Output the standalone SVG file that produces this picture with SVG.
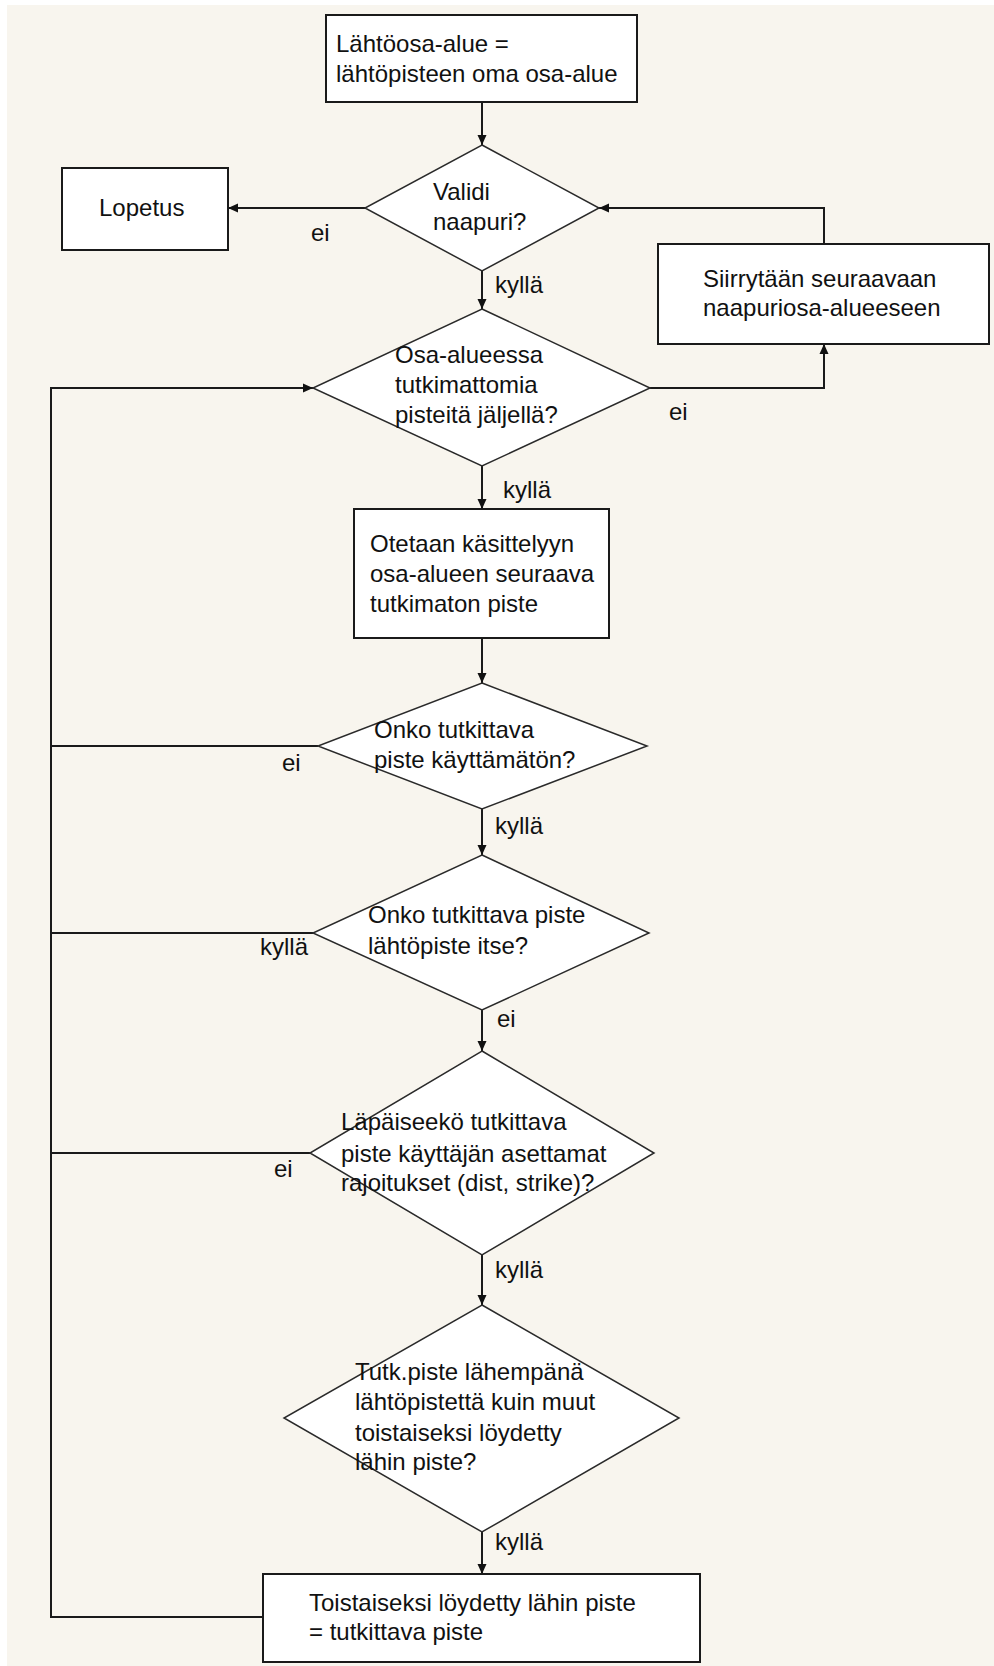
<svg xmlns="http://www.w3.org/2000/svg" width="994" height="1666" viewBox="0 0 994 1666">
<style>
.box{fill:#ffffff;stroke:#1a1a1a;stroke-width:2}
.dia{fill:#ffffff;stroke:#2a2a2a;stroke-width:1.5}
.t{font-family:"Liberation Sans",Arial,sans-serif;font-size:24px;fill:#111111}
.c{fill:none;stroke:#1a1a1a;stroke-width:2}
.a{marker-end:url(#arr)}
</style>
<defs>
<marker id="arr" markerUnits="userSpaceOnUse" markerWidth="10" markerHeight="10" viewBox="0 0 10 10" refX="10" refY="5" orient="auto">
<path d="M0,0.5 L10,5 L0,9.5 z" fill="#111111"/>
</marker>
</defs>
<rect x="0" y="0" width="994" height="1666" fill="#ffffff"/>
<rect x="7" y="5" width="987" height="1661" fill="#f8f5ee"/>

<g id="connectors">
<path class="c a" d="M482,102 V145"/>
<path class="c a" d="M365,208 H228"/>
<path class="c a" d="M824,244 V208 H599"/>
<path class="c a" d="M482,271 V309"/>
<path class="c a" d="M650,388 H824 V344"/>
<path class="c a" d="M482,466 V509"/>
<path class="c a" d="M482,638 V683"/>
<path class="c" d="M318,746 H51"/>
<path class="c a" d="M482,809 V855"/>
<path class="c" d="M313,933 H51"/>
<path class="c a" d="M482,1010 V1051"/>
<path class="c" d="M310,1153 H51"/>
<path class="c a" d="M482,1255 V1305"/>
<path class="c a" d="M482,1532 V1574"/>
<path class="c a" d="M263,1617 H51 V388 H313"/>
<text class="t" x="311" y="241">ei</text>
<text class="t" x="495" y="293">kyllä</text>
<text class="t" x="669" y="420">ei</text>
<text class="t" x="503" y="498">kyllä</text>
<text class="t" x="282" y="771">ei</text>
<text class="t" x="495" y="834">kyllä</text>
<text class="t" x="260" y="955">kyllä</text>
<text class="t" x="497" y="1027">ei</text>
<text class="t" x="274" y="1177">ei</text>
<text class="t" x="495" y="1278">kyllä</text>
<text class="t" x="495" y="1550">kyllä</text>
</g>

<g id="start">
<rect class="box" x="326" y="15" width="311" height="87"/>
<text class="t" x="336" y="52">Lähtöosa-alue =</text>
<text class="t" x="336" y="82">lähtöpisteen oma osa-alue</text>
</g>

<g id="validi">
<polygon class="dia" points="482,145 599,208 482,271 365,208"/>
<text class="t" x="433" y="200">Validi</text>
<text class="t" x="433" y="230">naapuri?</text>
</g>

<g id="lopetus">
<rect class="box" x="62" y="168" width="166" height="82"/>
<text class="t" x="99" y="216">Lopetus</text>
</g>

<g id="siirrytaan">
<rect class="box" x="658" y="244" width="331" height="100"/>
<text class="t" x="703" y="287">Siirrytään seuraavaan</text>
<text class="t" x="703" y="316">naapuriosa-alueeseen</text>
</g>

<g id="tutkimattomia">
<polygon class="dia" points="482,309 650,388 482,466 313,388"/>
<text class="t" x="395" y="363">Osa-alueessa</text>
<text class="t" x="395" y="393">tutkimattomia</text>
<text class="t" x="395" y="423">pisteitä jäljellä?</text>
</g>

<g id="otetaan">
<rect class="box" x="354" y="509" width="255" height="129"/>
<text class="t" x="370" y="552">Otetaan käsittelyyn</text>
<text class="t" x="370" y="582">osa-alueen seuraava</text>
<text class="t" x="370" y="612">tutkimaton piste</text>
</g>

<g id="kayttamaton">
<polygon class="dia" points="482,683 647,746 482,809 318,746"/>
<text class="t" x="374" y="738">Onko tutkittava</text>
<text class="t" x="374" y="768">piste käyttämätön?</text>
</g>

<g id="lahtopiste">
<polygon class="dia" points="482,855 649,933 482,1010 313,933"/>
<text class="t" x="368" y="923">Onko tutkittava piste</text>
<text class="t" x="368" y="954">lähtöpiste itse?</text>
</g>

<g id="rajoitukset">
<polygon class="dia" points="482,1051 654,1153 482,1255 310,1153"/>
<text class="t" x="341" y="1130">Läpäiseekö tutkittava</text>
<text class="t" x="341" y="1162">piste käyttäjän asettamat</text>
<text class="t" x="341" y="1191">rajoitukset (dist, strike)?</text>
</g>

<g id="lahempana">
<polygon class="dia" points="482,1305 679,1418 482,1532 284,1418"/>
<text class="t" x="355" y="1380">Tutk.piste lähempänä</text>
<text class="t" x="355" y="1410">lähtöpistettä kuin muut</text>
<text class="t" x="355" y="1441">toistaiseksi löydetty</text>
<text class="t" x="355" y="1470">lähin piste?</text>
</g>

<g id="lahin">
<rect class="box" x="263" y="1574" width="437" height="88"/>
<text class="t" x="309" y="1611">Toistaiseksi löydetty lähin piste</text>
<text class="t" x="309" y="1640">= tutkittava piste</text>
</g>
</svg>
